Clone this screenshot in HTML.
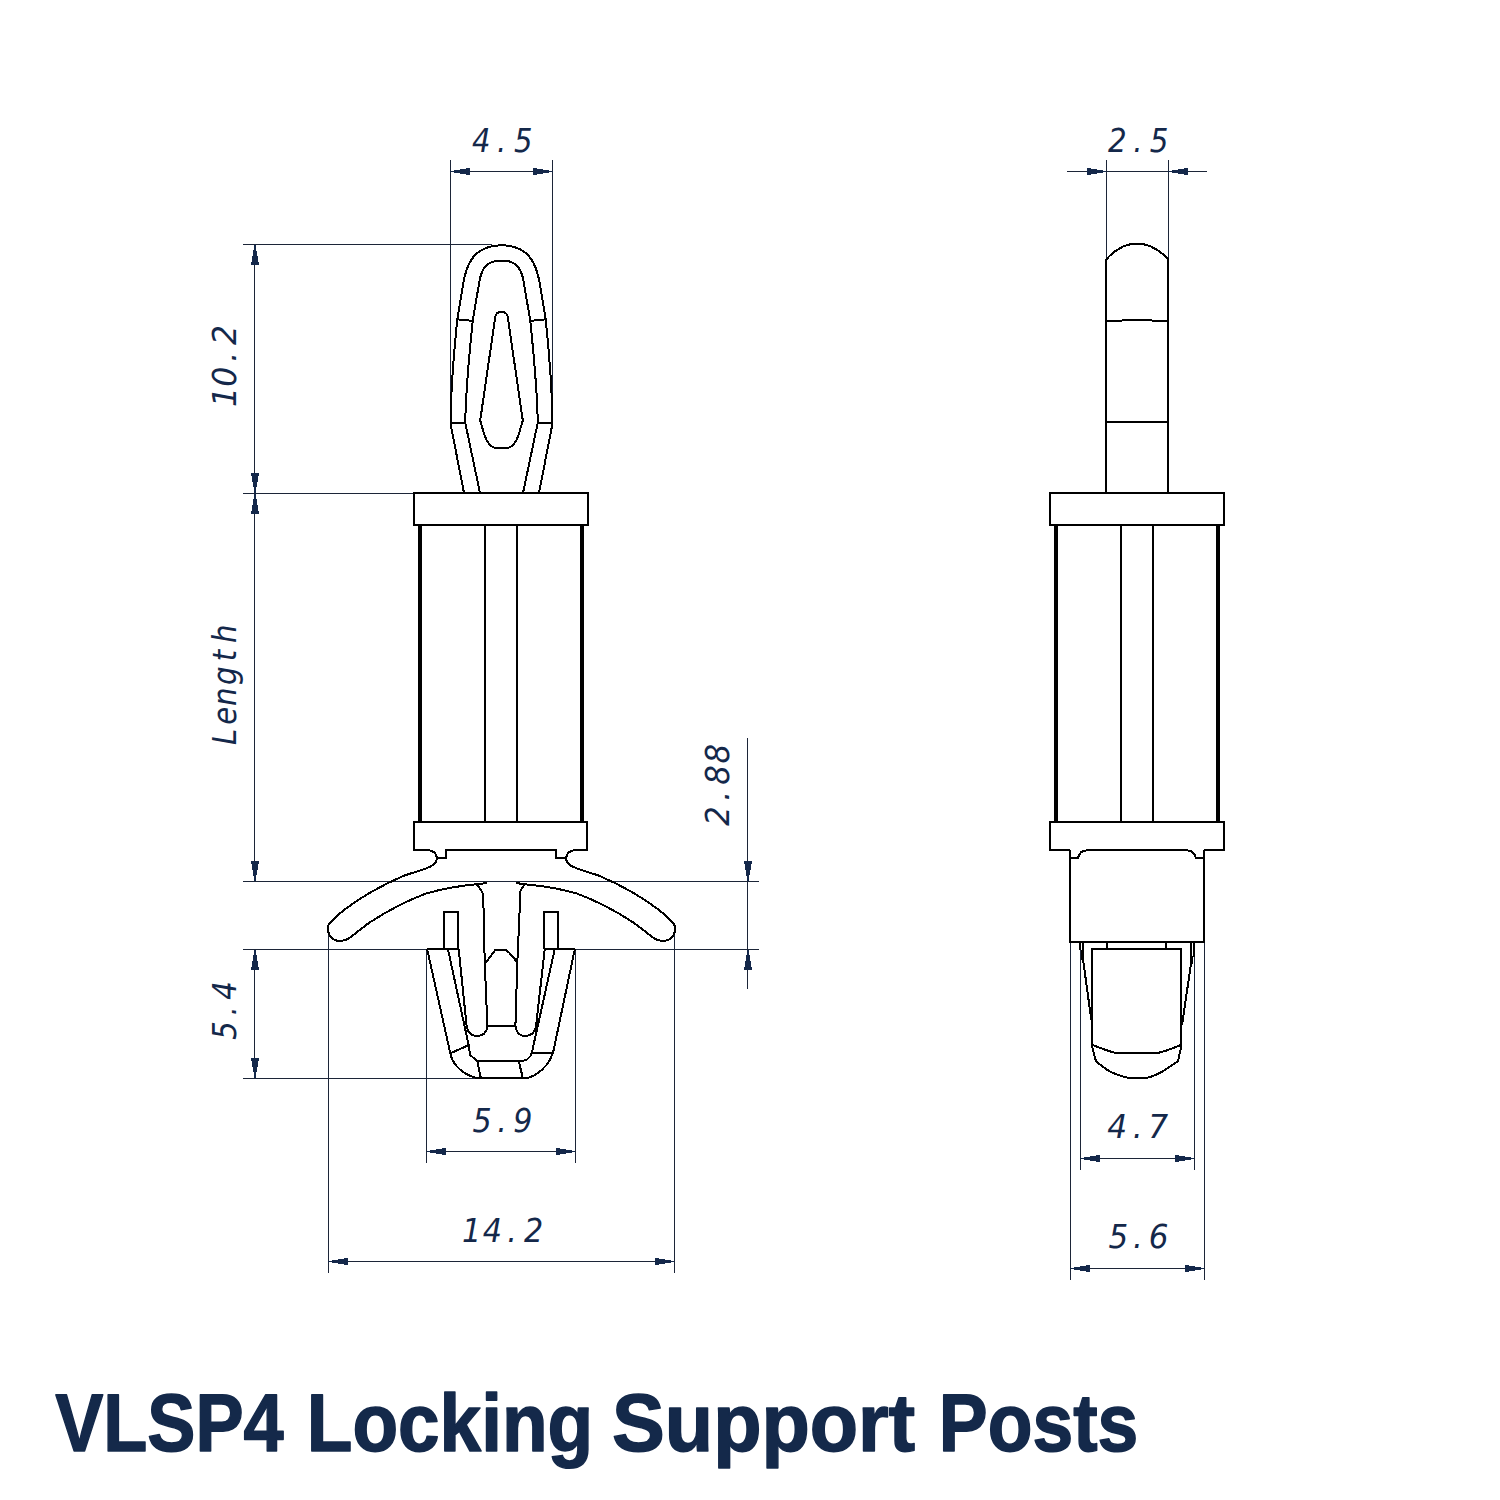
<!DOCTYPE html>
<html lang="en">
<head>
<meta charset="utf-8">
<title>VLSP4 Locking Support Posts</title>
<style>
html,body{margin:0;padding:0;background:#fff;}
body{width:1500px;height:1500px;overflow:hidden;position:relative;}
svg{position:absolute;left:0;top:0;display:block;}
.part path,.part line,.part rect{fill:none;stroke:#000;stroke-linejoin:miter;stroke-linecap:butt;shape-rendering:crispEdges;}
.part path{stroke-linejoin:miter;stroke-miterlimit:1.5;}
.dim line{stroke:#1c2538;stroke-width:1;fill:none;shape-rendering:crispEdges;}
.dim polygon{fill:#14284a;stroke:none;shape-rendering:crispEdges;}
.dim text{fill:#14284a;font-family:"DejaVu Sans Condensed","DejaVu Sans","Liberation Sans",sans-serif;text-rendering:geometricPrecision;}
.title text{fill:#14294a;font-family:"Liberation Sans",sans-serif;font-weight:bold;text-rendering:geometricPrecision;}
</style>
</head>
<body>
<svg width="1500" height="1500" viewBox="0 0 1500 1500">
<rect x="0" y="0" width="1500" height="1500" fill="#ffffff"/>
<g class="dim">
<line x1="450.5" y1="160" x2="450.5" y2="424"/>
<line x1="552.5" y1="160" x2="552.5" y2="424"/>
<line x1="450.4" y1="171.5" x2="552.7" y2="171.5"/>
<polygon points="450.40,171.05 469.90,167.83 469.90,175.17 450.40,171.95"/>
<polygon points="552.70,171.05 533.20,167.83 533.20,175.17 552.70,171.95"/>
<text transform="translate(0,152.3) scale(0.9818,1)" x="480.76 506.31 523.57" y="0" font-size="32.9" font-style="italic">4.5</text>
<line x1="243" y1="244.5" x2="492" y2="244.5"/>
<line x1="243" y1="493.5" x2="414" y2="493.5"/>
<line x1="243" y1="881.5" x2="759" y2="881.5"/>
<line x1="243" y1="949.5" x2="427" y2="949.5"/>
<line x1="575.3" y1="949.5" x2="759" y2="949.5"/>
<line x1="243" y1="1078.5" x2="476" y2="1078.5"/>
<line x1="254.5" y1="244.5" x2="254.5" y2="881.5"/>
<line x1="254.5" y1="949.4" x2="254.5" y2="1078.4"/>
<polygon points="254.55,244.50 251.00,264.70 259.00,264.70 255.45,244.50"/>
<polygon points="254.55,493.30 251.00,473.10 259.00,473.10 255.45,493.30"/>
<polygon points="254.55,493.30 251.00,513.50 259.00,513.50 255.45,493.30"/>
<polygon points="254.55,881.50 251.00,861.30 259.00,861.30 255.45,881.50"/>
<polygon points="254.55,949.40 251.00,969.60 259.00,969.60 255.45,949.40"/>
<polygon points="254.55,1078.40 251.00,1058.20 259.00,1058.20 255.45,1078.40"/>
<text transform="translate(236.0,0) rotate(-90) scale(1.0634,1)" x="-382.63 -363.64 -340.24 -324.51" y="0" font-size="32.9" font-style="italic">10.2</text>
<text transform="translate(235.8,0) rotate(-90) scale(0.9849,1)" x="-756.55 -735.84 -716.82 -695.40 -671.47 -652.86" y="0" font-size="32.9" font-style="italic">Length</text>
<text transform="translate(236.0,0) rotate(-90) scale(0.9821,1)" x="-1058.67 -1034.08 -1018.08" y="0" font-size="32.9" font-style="italic">5.4</text>
<line x1="747.5" y1="738" x2="747.5" y2="989"/>
<polygon points="747.55,881.50 744.00,861.30 752.00,861.30 748.45,881.50"/>
<polygon points="747.55,949.40 744.00,969.60 752.00,969.60 748.45,949.40"/>
<text transform="translate(729.0,0) rotate(-90) scale(1.0372,1)" x="-796.26 -772.02 -756.62 -736.23" y="0" font-size="32.9" font-style="italic">2.88</text>
<line x1="426.5" y1="949.4" x2="426.5" y2="1162.5"/>
<line x1="575.5" y1="949.4" x2="575.5" y2="1162.5"/>
<line x1="426.7" y1="1151.5" x2="575.3" y2="1151.5"/>
<polygon points="426.70,1151.05 446.20,1147.83 446.20,1155.17 426.70,1151.95"/>
<polygon points="575.30,1151.05 555.80,1147.83 555.80,1155.17 575.30,1151.95"/>
<text transform="translate(0,1131.5) scale(1.0197,1)" x="463.42 487.55 503.43" y="0" font-size="32.9" font-style="italic">5.9</text>
<line x1="328.5" y1="929" x2="328.5" y2="1272.7"/>
<line x1="674.5" y1="929" x2="674.5" y2="1272.7"/>
<line x1="328.3" y1="1261.5" x2="674.4" y2="1261.5"/>
<polygon points="328.30,1261.05 347.80,1257.83 347.80,1265.17 328.30,1261.95"/>
<polygon points="674.40,1261.05 654.90,1257.83 654.90,1265.17 674.40,1261.95"/>
<text transform="translate(0,1241.5) scale(1.0217,1)" x="452.12 472.44 496.36 512.84" y="0" font-size="32.9" font-style="italic">14.2</text>
<line x1="1106.5" y1="160" x2="1106.5" y2="262"/>
<line x1="1168.5" y1="160" x2="1168.5" y2="262"/>
<line x1="1067" y1="171.5" x2="1207" y2="171.5"/>
<polygon points="1106.30,171.05 1086.80,167.83 1086.80,175.17 1106.30,171.95"/>
<polygon points="1168.40,171.05 1187.90,167.83 1187.90,175.17 1168.40,171.95"/>
<text transform="translate(0,152.3) scale(0.9910,1)" x="1118.20 1143.44 1160.24" y="0" font-size="32.9" font-style="italic">2.5</text>
<line x1="1080.5" y1="949" x2="1080.5" y2="1169.6"/>
<line x1="1194.5" y1="949" x2="1194.5" y2="1169.6"/>
<line x1="1080.4" y1="1158.5" x2="1194.4" y2="1158.5"/>
<polygon points="1080.40,1158.05 1099.90,1154.83 1099.90,1162.17 1080.40,1158.95"/>
<polygon points="1194.40,1158.05 1174.90,1154.83 1174.90,1162.17 1194.40,1158.95"/>
<text transform="translate(0,1138.4) scale(1.0561,1)" x="1048.48 1072.68 1087.26" y="0" font-size="32.9" font-style="italic">4.7</text>
<line x1="1070.5" y1="942" x2="1070.5" y2="1280"/>
<line x1="1204.5" y1="942" x2="1204.5" y2="1280"/>
<line x1="1070.4" y1="1268.5" x2="1204.4" y2="1268.5"/>
<polygon points="1070.40,1268.05 1089.90,1264.83 1089.90,1272.17 1070.40,1268.95"/>
<polygon points="1204.40,1268.05 1184.90,1264.83 1184.90,1272.17 1204.40,1268.95"/>
<text transform="translate(0,1248.4) scale(1.0463,1)" x="1059.35 1082.82 1097.89" y="0" font-size="32.9" font-style="italic">5.6</text>
</g>
<g class="part">
<path d="M464,493 L450.6,424 Q450.6,385 457.3,319.3 L462.7,286.7 C465.5,268 471,256.5 480,251 C487,246.6 494,245.3 501.5,245.3 C509,245.3 516,246.6 523,251 C532,256.5 537.5,268 540.3,286.7 L545.7,319.3 Q552.4,385 552.4,424 L539,493" stroke-width="2" />
<path d="M480,493 L465.3,423 Q465.6,390 472.7,320.7 L480,278 C482.5,268 486.5,263.5 492,262 C495,260.9 498,260.6 501.5,260.6 C505,260.6 508,260.9 511,262 C516.5,263.5 520.5,268 523,278 L530.3,320.7 Q537.4,390 537.7,423 L523,493" stroke-width="2" />
<path d="M501.5,311.8 C498,311.8 496,313.5 495.3,316.7 L480.2,420.5 L484.7,436 C487.5,443 491.5,447.6 496,448 L507,448 C511.5,447.6 515.5,443 518.3,436 L522.8,420.5 L507.7,316.7 C507,313.5 505,311.8 501.5,311.8 Z" stroke-width="2" />
<path d="M457.3,319.3 L472.7,320.9" stroke-width="2" />
<path d="M545.7,319.3 L530.3,320.9" stroke-width="2" />
<path d="M450.6,423 L465.3,423" stroke-width="2" />
<path d="M552.4,423 L537.7,423" stroke-width="2" />
<rect x="414" y="493.2" width="173.6" height="31.8" stroke-width="2"/>
<line x1="420.2" y1="525" x2="420.2" y2="822" stroke-width="4"/>
<line x1="582" y1="525" x2="582" y2="822" stroke-width="4"/>
<line x1="485" y1="525" x2="485" y2="822" stroke-width="2"/>
<line x1="517.2" y1="525" x2="517.2" y2="822" stroke-width="2"/>
<path d="M428,850 H414 V822 H587 V850 H573.5" stroke-width="2" />
<path d="M437,858 H446 V850 H556 V858 H565.5" stroke-width="2" />
<path d="M428,850 C433,850.6 436.4,853.6 436.9,858 C437.2,862.5 434,866 425.3,868.7 L404,875.7 C380,886 357,900 344,910 C336,916.5 330.5,921 328.3,925.5 C326.8,929 328.3,934 331,937 C333.5,939.8 336.5,941 340,941 C343.5,941 346.5,940 349.5,938 C356,933 362,928 369.3,922.7 C388,910.5 407,900.5 426.7,893.3 C442,889 458,886 476,884.3 L487,883" stroke-width="2" />
<path d="M575,850 C570,850.6 566.6,853.6 566.1,858 C565.8,862.5 569,866 577.7,868.7 L599,875.7 C623,886 646,900 659,910 C667,916.5 672.5,921 674.7,925.5 C676.2,929 674.7,934 672,937 C669.5,939.8 666.5,941 663,941 C659.5,941 656.5,940 653.5,938 C647,933 641,928 633.7,922.7 C615,910.5 596,900.5 576.3,893.3 C561,889 545,886 525,884.3 L516,883" stroke-width="2" />
<path d="M476,884.3 C480.5,888 483,892 483.3,897 L484,933 L484.8,964 L487.4,1026" stroke-width="2" />
<path d="M525,884.3 C521.5,888 520,890.5 520,894 L519.4,917.3 L518,946.7 L517.3,963.3 L515.4,1026" stroke-width="2" />
<path d="M484.8,964 L495.3,950 L506,950 C511,954 515,958.5 517.3,963.3" stroke-width="2" />
<path d="M487.4,1026 L515.4,1026" stroke-width="2" />
<path d="M444,948.7 V911.7 H458.3 V948.7" stroke-width="2" />
<path d="M544,948.7 V911.7 H558 V948.7" stroke-width="2" />
<path d="M426.7,948.9 H458.6" stroke-width="2" />
<path d="M544.5,948.9 H575.2" stroke-width="2" />
<path d="M427.2,949.3 L450.3,1053.3 C452,1063 460,1071.5 470.7,1076.2 C474,1077.6 477.5,1078.2 481.3,1078.2 L523,1078.2 C528,1078.2 531.5,1077 534.7,1075.3 C544,1069.5 550.5,1061 553.2,1052 L574.8,949.3" stroke-width="2" />
<path d="M448,949.3 L468.7,1045.3 L470,1054.7 L476.7,1060.8 L520,1060.8 C526,1061.5 530.5,1058 532,1052 L554.7,949.3" stroke-width="2" />
<path d="M458.7,949.3 L466.7,1026.7 C468,1033 472,1036 477.3,1036 C482.5,1036 486.5,1033 487.5,1026" stroke-width="2" />
<path d="M544.7,949.3 L536,1026.7 C534.5,1033 530.5,1036 525,1036 C520,1036 516.5,1033 515.4,1026" stroke-width="2" />
<path d="M450.5,1053.3 L468.3,1045.3" stroke-width="2" />
<path d="M532,1052.5 L553,1052.5" stroke-width="2" />
<path d="M477.3,1061 L480.8,1077.8" stroke-width="2" />
<path d="M518.8,1061.5 L522.8,1077.8" stroke-width="2" />
</g>
<g class="part">
<path d="M1106.2,493 V259.5 C1116,248.5 1126,243.6 1137,243.6 C1148,243.6 1158,248.5 1168.2,259 V493" stroke-width="2" />
<path d="M1106.2,320.8 L1121,320.6 Q1137,318.6 1153,320.6 L1168.2,320.8" stroke-width="2" />
<path d="M1106.2,421.7 H1168.2" stroke-width="2" />
<rect x="1050" y="493.2" width="174" height="31.8" stroke-width="2"/>
<line x1="1056" y1="525" x2="1056" y2="822" stroke-width="4"/>
<line x1="1218" y1="525" x2="1218" y2="822" stroke-width="4"/>
<line x1="1121" y1="525" x2="1121" y2="822" stroke-width="2"/>
<line x1="1153" y1="525" x2="1153" y2="822" stroke-width="2"/>
<path d="M1070.3,850 H1050 V822 H1224 V850 H1203.7" stroke-width="2" />
<path d="M1070.3,850 V858 H1078 C1079,853 1082,850.3 1087.3,850.3 H1186 C1191.5,850.3 1195,853 1196,858 H1203.7 V850" stroke-width="2" />
<path d="M1070.3,858 V942 H1203.7 V858" stroke-width="2" />
<path d="M1080,942 V950" stroke-width="2" />
<path d="M1107,942 V949" stroke-width="2" />
<path d="M1166,942 V949" stroke-width="2" />
<path d="M1194,942 V957" stroke-width="2" />
<path d="M1092,1046 V948.8 H1181.3 V1046" stroke-width="2" />
<path d="M1092,1044.7 C1105,1050 1112,1052.5 1117,1053 L1157,1053 C1162,1052.5 1169,1050 1181.3,1044.7" stroke-width="2" />
<path d="M1092,1046 L1096,1061.3 C1104,1068 1110,1072 1113,1073 C1122,1076.5 1128,1078 1131.5,1078.2 L1143.5,1078.2 C1147,1078 1153,1076.5 1160.7,1072.5 C1165,1070 1171,1066 1178,1061.3 L1181.3,1046" stroke-width="2" />
<path d="M1083,942 V959 L1091.3,1020" stroke-width="2" />
<path d="M1081.5,950 V960" stroke-width="1" />
<path d="M1191,942 V964 L1182,1025" stroke-width="2" />
<path d="M1192.5,956 V964" stroke-width="1" />
</g>
<g class="title">
<text y="1450.9" font-size="81.6" stroke="#14294a" stroke-width="1.5" stroke-linejoin="round"><tspan x="55.26" textLength="228.38" lengthAdjust="spacingAndGlyphs">VLSP4</tspan> <tspan x="306.75" textLength="286.50" lengthAdjust="spacingAndGlyphs">Locking</tspan> <tspan x="612.07" textLength="303.14" lengthAdjust="spacingAndGlyphs">Support</tspan> <tspan x="938.85" textLength="199.40" lengthAdjust="spacingAndGlyphs">Posts</tspan></text>
</g>
</svg>
</body>
</html>
